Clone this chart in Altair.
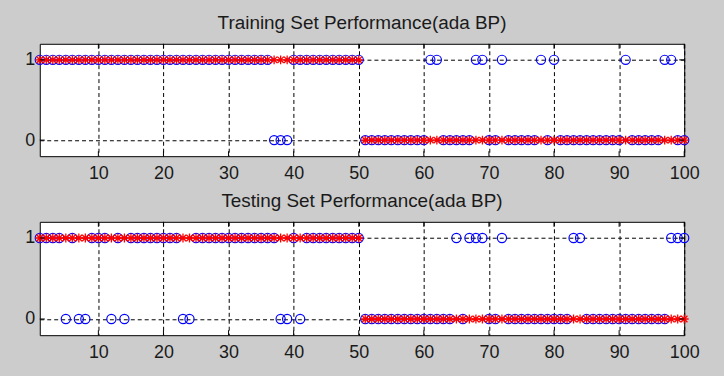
import altair as alt
import pandas as pd

# ---- data ----
x_index = list(range(1, 101))

train_target = [
    1, 1, 1, 1, 1, 1, 1, 1, 1, 1,
    1, 1, 1, 1, 1, 1, 1, 1, 1, 1,
    1, 1, 1, 1, 1, 1, 1, 1, 1, 1,
    1, 1, 1, 1, 1, 1, 1, 1, 1, 1,
    1, 1, 1, 1, 1, 1, 1, 1, 1, 1,
    0, 0, 0, 0, 0, 0, 0, 0, 0, 0,
    0, 0, 0, 0, 0, 0, 0, 0, 0, 0,
    0, 0, 0, 0, 0, 0, 0, 0, 0, 0,
    0, 0, 0, 0, 0, 0, 0, 0, 0, 0,
    0, 0, 0, 0, 0, 0, 0, 0, 0, 0,
]
train_output = [
    1, 1, 1, 1, 1, 1, 1, 1, 1, 1,
    1, 1, 1, 1, 1, 1, 1, 1, 1, 1,
    1, 1, 1, 1, 1, 1, 1, 1, 1, 1,
    1, 1, 1, 1, 1, 1, 0, 0, 0, 1,
    1, 1, 1, 1, 1, 1, 1, 1, 1, 1,
    0, 0, 0, 0, 0, 0, 0, 0, 0, 0,
    1, 1, 0, 0, 0, 0, 0, 1, 1, 0,
    0, 1, 0, 0, 0, 0, 0, 1, 0, 1,
    0, 0, 0, 0, 0, 0, 0, 0, 0, 0,
    1, 0, 0, 0, 0, 0, 1, 1, 0, 0,
]
test_target = [
    1, 1, 1, 1, 1, 1, 1, 1, 1, 1,
    1, 1, 1, 1, 1, 1, 1, 1, 1, 1,
    1, 1, 1, 1, 1, 1, 1, 1, 1, 1,
    1, 1, 1, 1, 1, 1, 1, 1, 1, 1,
    1, 1, 1, 1, 1, 1, 1, 1, 1, 1,
    0, 0, 0, 0, 0, 0, 0, 0, 0, 0,
    0, 0, 0, 0, 0, 0, 0, 0, 0, 0,
    0, 0, 0, 0, 0, 0, 0, 0, 0, 0,
    0, 0, 0, 0, 0, 0, 0, 0, 0, 0,
    0, 0, 0, 0, 0, 0, 0, 0, 0, 0,
]
test_output = [
    1, 1, 1, 1, 0, 1, 0, 0, 1, 1,
    1, 0, 1, 0, 1, 1, 1, 1, 1, 1,
    1, 1, 0, 0, 1, 1, 1, 1, 1, 1,
    1, 1, 1, 1, 1, 1, 1, 0, 0, 1,
    0, 1, 1, 1, 1, 1, 1, 1, 1, 1,
    0, 0, 0, 0, 0, 0, 0, 0, 0, 0,
    0, 0, 0, 0, 1, 0, 1, 1, 1, 0,
    0, 1, 0, 0, 0, 0, 0, 0, 0, 0,
    0, 0, 1, 1, 0, 0, 0, 0, 0, 0,
    0, 0, 0, 0, 0, 0, 0, 1, 1, 1,
]
x_ticks = [10, 20, 30, 40, 50, 60, 70, 80, 90, 100]
y_ticks = [0, 1]
titles = ["Training Set Performance(ada BP)", "Testing Set Performance(ada BP)"]

# ---- styling ----
FONT = "Liberation Sans"
W = 648
ASTERISK = "M-1,0H1M0,-1V1M-0.72,-0.72L0.72,0.72M-0.72,0.72L0.72,-0.72"
TICK = 5


def panel(title, target, output, h):
    df = pd.DataFrame({"x": x_index, "target": target, "output": output})
    xs = alt.Scale(domain=[1, 100], nice=False, zero=False)
    ys = alt.Scale(domain=[-0.2, 1.2], nice=False, zero=False)
    common = dict(grid=True, gridDash=[4, 3], gridColor="black", gridOpacity=1,
                  gridWidth=1, ticks=False, domain=False, labelFontSize=18,
                  labelFont=FONT, labelColor="#1a1a1a",
                  title=None, labelFlush=False)
    xax = alt.Axis(values=x_ticks, format="d", labelPadding=8, **common)
    yax = alt.Axis(values=y_ticks, format="d", labelPadding=5, **common)

    circles = alt.Chart(df).mark_point(
        shape="circle", filled=False, color="#0000ff", size=85, strokeWidth=1.2,
        opacity=1, clip=False
    ).encode(
        x=alt.X("x:Q", scale=xs, axis=xax),
        y=alt.Y("output:Q", scale=ys, axis=yax),
    )
    stars = alt.Chart(df).mark_point(
        shape=ASTERISK, filled=False, color="#ff0000", size=80, strokeWidth=1.3,
        opacity=1, clip=False
    ).encode(
        x=alt.X("x:Q", scale=xs, axis=xax),
        y=alt.Y("target:Q", scale=ys, axis=yax),
    )
    xt = pd.DataFrame({"t": x_ticks})
    yt = pd.DataFrame({"t": y_ticks})
    xt_bottom = alt.Chart(xt).mark_rule(color="black", strokeWidth=1).encode(
        x=alt.X("t:Q", scale=xs, axis=xax), y=alt.value(h), y2=alt.value(h - TICK))
    xt_top = alt.Chart(xt).mark_rule(color="black", strokeWidth=1).encode(
        x=alt.X("t:Q", scale=xs, axis=xax), y=alt.value(0), y2=alt.value(TICK))
    yt_left = alt.Chart(yt).mark_rule(color="black", strokeWidth=1).encode(
        y=alt.Y("t:Q", scale=ys, axis=yax), x=alt.value(0), x2=alt.value(TICK))
    yt_right = alt.Chart(yt).mark_rule(color="black", strokeWidth=1).encode(
        y=alt.Y("t:Q", scale=ys, axis=yax), x=alt.value(W), x2=alt.value(W - TICK))

    return alt.layer(circles, stars, xt_bottom, xt_top, yt_left, yt_right).properties(
        width=W, height=h,
        title=alt.TitleParams(title, fontSize=19, font=FONT, fontWeight="normal",
                              color="#1a1a1a", anchor="middle", offset=10),
    )


top = panel(titles[0], train_target, train_output, 113)
bottom = panel(titles[1], test_target, test_output, 114)

chart = alt.vconcat(top, bottom, spacing=9).properties(
    background="#cccccc",
    padding={"left": 24, "top": 13, "right": 24, "bottom": 14},
).configure_view(
    stroke="black", strokeWidth=1, fill="white"
)

chart.save("out.html", embed_options={"renderer": "svg", "actions": False})
